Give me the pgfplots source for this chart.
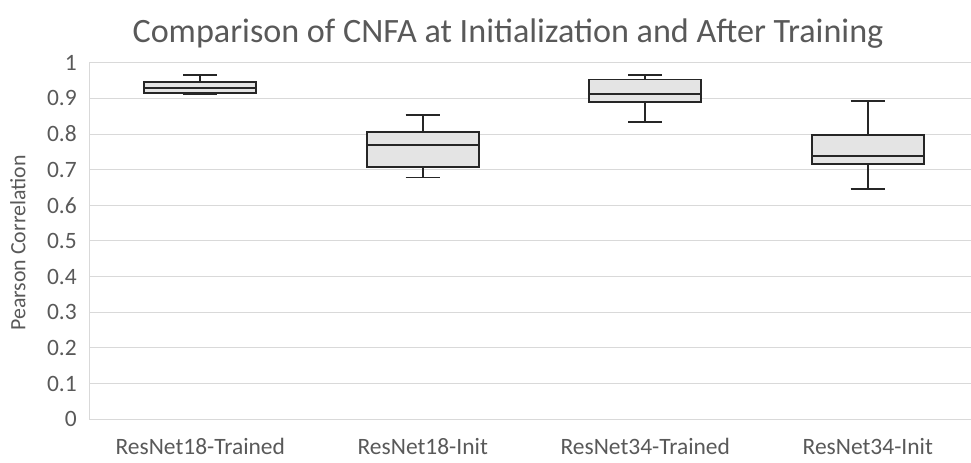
\documentclass[border=0pt]{standalone}
\usepackage{fontspec}
\setmainfont{Carlito}
\usepackage{pgfplots}
\pgfplotsset{compat=1.18}
\usepgfplotslibrary{statistics}
\definecolor{txt}{HTML}{595959}
\definecolor{gridc}{HTML}{D9D9D9}
\definecolor{boxfill}{HTML}{E4E4E4}
\definecolor{boxdraw}{HTML}{262626}
\begin{document}
\begin{tikzpicture}
\begin{axis}[
  at={(66.75pt,32.8pt)}, anchor=south west,
  scale only axis, width=661.5pt, height=267.4pt,
  xmin=0.5, xmax=4.464, ymin=0, ymax=1,
  ytick={0,0.1,0.2,0.3,0.4,0.5,0.6,0.7,0.8,0.9,1},
  yticklabels={0,0.1,0.2,0.3,0.4,0.5,0.6,0.7,0.8,0.9,1},
  xtick={1,2,3,4},
  xticklabels={ResNet18-Trained,ResNet18-Init,ResNet34-Trained,ResNet34-Init},
  major tick length=0pt,
  axis x line*=bottom, axis y line*=left,
  axis line style={gridc, line width=0.75pt, -},
  ymajorgrids, grid style={gridc, line width=0.75pt},
  tick label style={font=\fontsize{17.6}{20}\selectfont, text=txt, inner sep=0pt},
  yticklabel style={anchor=east, xshift=-9pt},
  xticklabel style={anchor=base, yshift=-26.25pt},
  boxplot/draw direction=y,
  every boxplot/.append style={line width=1.4pt},
]
\addplot+[no marks, fill=boxfill, draw=boxdraw, line width=1.4pt, solid,
  boxplot prepared={lower whisker=0.912, lower quartile=0.914, median=0.929,
    upper quartile=0.945, upper whisker=0.965, draw position=1,
    box extend=0.503, whisker extend=0.153}] coordinates {};
\addplot+[no marks, fill=boxfill, draw=boxdraw, line width=1.4pt, solid,
  boxplot prepared={lower whisker=0.678, lower quartile=0.7075, median=0.770,
    upper quartile=0.806, upper whisker=0.854, draw position=2,
    box extend=0.503, whisker extend=0.153}] coordinates {};
\addplot+[no marks, fill=boxfill, draw=boxdraw, line width=1.4pt, solid,
  boxplot prepared={lower whisker=0.834, lower quartile=0.891, median=0.913,
    upper quartile=0.953, upper whisker=0.966, draw position=3,
    box extend=0.503, whisker extend=0.153}] coordinates {};
\addplot+[no marks, fill=boxfill, draw=boxdraw, line width=1.4pt, solid,
  boxplot prepared={lower whisker=0.647, lower quartile=0.717, median=0.738,
    upper quartile=0.797, upper whisker=0.8935, draw position=4,
    box extend=0.503, whisker extend=0.153}] coordinates {};
\end{axis}
\node[anchor=base, font=\fontsize{25.6}{30}\selectfont, text=txt, inner sep=0pt]
  at (381pt,315pt) {Comparison of CNFA at Initialization and After Training};
\node[anchor=base, rotate=90, font=\fontsize{16.4}{19}\selectfont, text=txt, inner sep=0pt]
  at (19pt,165pt) {Pearson Correlation};
\pgfresetboundingbox
\path (0,0) rectangle (728.25pt,347.25pt);
\end{tikzpicture}
\end{document}
